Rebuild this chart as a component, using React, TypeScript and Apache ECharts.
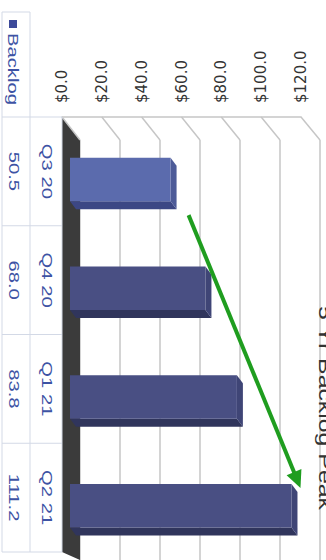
import React, { useEffect, useRef } from 'react';
import * as echarts from 'echarts';

// ---- data ----
const categories = ['Q3 20', 'Q4 20', 'Q1 21', 'Q2 21'];
const backlog = [50.5, 68.0, 83.8, 111.2];
const seriesName = 'Backlog';
const titleText = '5 Yr Backlog Peak';
const valueMin = 0;
const valueMax = 120;
const valueStep = 20;
const fmtTick = (v: number) => '$' + v.toFixed(1);
const fmtValue = (v: number) => v.toFixed(1);

// ---- styles ----
const FRONT = ['#5b6bad', '#494f83', '#494f83', '#494f83'];
const SIDE = ['#4d5b98', '#3f4576', '#3f4576', '#3f4576'];
const BOTTOM = ['#3c4784', '#30355c', '#30355c', '#30355c'];
const GRID_COLOR = '#c6c6c6';
const TABLE_LINE = '#d3d9e6';
const TABLE_TEXT = '#3d53a4';
const ARROW = '#1f9d1f';
const W = 326;
const H = 560;
const BAR_SHIFT = [8, 8];
const BAR_DEPTH = [6, 8];
const BAR_FRAC = 0.4;
const ROT = -Math.PI / 2;

export default function App() {
  const ref = useRef<HTMLDivElement>(null);
  useEffect(() => {
    const chart = echarts.init(ref.current!, null, { renderer: 'svg' });
    const renderItem = (params: any, api: any) => {
      const i = params.dataIndex;
      const v = api.value(0);
      const c = api.value(1);
      const [xv, yc] = api.coord([v, c]);
      const [x0] = api.coord([0, c]);
      const band = api.size([0, 1])[1];
      const h = band * BAR_FRAC;
      const [sx, sy] = BAR_SHIFT;
      const [dx, dy] = BAR_DEPTH;
      const L = x0 + sx, R = xv + sx, T = yc + sy - h / 2, B = yc + sy + h / 2;
      return {
        type: 'group',
        children: [
          { type: 'polygon', shape: { points: [[L, B], [R, B], [R + dx, B + dy], [L + dx, B + dy]] }, style: { fill: BOTTOM[i] } },
          { type: 'polygon', shape: { points: [[R, T], [R + dx, T + dy], [R + dx, B + dy], [R, B]] }, style: { fill: SIDE[i] } },
          { type: 'rect', shape: { x: L, y: T, width: R - L, height: h }, style: { fill: FRONT[i] } },
        ],
      };
    };
    const option: any = {
      animation: false,
      backgroundColor: '#ffffff',
      grid: [
        { left: 62, right: 25, top: 117, bottom: 8 },
        { left: 80, right: 6, top: 140, bottom: 0 },
      ],
      xAxis: [
        {
          gridIndex: 0, type: 'value', position: 'top', min: valueMin, max: valueMax, interval: valueStep,
          axisLine: { show: true, lineStyle: { color: GRID_COLOR, width: 1.5 } },
          axisTick: { show: false }, splitLine: { show: false },
          axisLabel: { rotate: -90, margin: 14, formatter: fmtTick, color: '#333', fontSize: 15, fontFamily: 'DejaVu Sans' },
        },
        {
          gridIndex: 1, type: 'value', min: valueMin, max: valueMax, interval: valueStep,
          axisLine: { show: false }, axisTick: { show: false }, axisLabel: { show: false },
          splitLine: { show: true, lineStyle: { color: GRID_COLOR, width: 1.5 } },
        },
      ],
      yAxis: [
        { gridIndex: 0, type: 'category', inverse: true, data: categories, show: false },
        { gridIndex: 1, type: 'category', inverse: true, data: categories, show: false },
      ],
      series: [
        {
          type: 'custom', name: seriesName, xAxisIndex: 0, yAxisIndex: 0, z: 3,
          encode: { x: 0, y: 1 },
          data: backlog.map((v, i) => [v, i]),
          renderItem,
        },
      ],
    };
    chart.setOption(option);

    const fx = (v: number) => chart.convertToPixel({ xAxisIndex: 0 } as any, v) as number;
    const bx = (v: number) => chart.convertToPixel({ xAxisIndex: 1 } as any, v) as number;
    const cy = (i: number) => chart.convertToPixel({ yAxisIndex: 0 } as any, i) as number;
    const cy1 = (i: number) => chart.convertToPixel({ yAxisIndex: 1 } as any, i) as number;
    const band = cy(1) - cy(0);
    const band1 = cy1(1) - cy1(0);
    const frontTop = cy(0) - band / 2;
    const frontBottom = cy(categories.length - 1) + band / 2;
    const backTop = cy1(0) - band1 / 2;
    const g: any[] = [];

    // floor
    g.push({
      type: 'polygon', z: 1,
      shape: { points: [[fx(valueMin), frontTop], [bx(valueMin), backTop], [bx(valueMin), H], [fx(valueMin), frontBottom]] },
      style: { fill: '#3b3b3b' },
    });
    // side wall diagonals
    for (let v = valueMin; v <= valueMax; v += valueStep) {
      g.push({
        type: 'line', z: 1,
        shape: { x1: fx(v), y1: frontTop, x2: bx(v), y2: backTop },
        style: { stroke: GRID_COLOR, lineWidth: 1.5 },
      });
    }
    // data table
    const tL = 2, tM = 30, tR = fx(valueMin), tTop = 12;
    const lines: number[][] = [
      [tL, tTop, tL, frontBottom],
      [tM, tTop, tM, frontBottom],
      [tR, frontTop, tR, frontBottom],
      [tL, tTop, tM, tTop],
    ];
    for (let k = 0; k <= categories.length; k++) {
      const y = frontTop + k * band;
      lines.push([tL, y, tR, y]);
    }
    lines.forEach(([x1, y1, x2, y2]) =>
      g.push({ type: 'line', z: 2, shape: { x1, y1, x2, y2 }, style: { stroke: TABLE_LINE, lineWidth: 1 } })
    );
    const textStyle = (text: string, size: number, fill: string, align = 'center', va = 'middle') => ({
      text, fill, font: `${size}px "Liberation Sans", Arial, sans-serif`, align, verticalAlign: va,
    });
    categories.forEach((c, i) => {
      g.push({ type: 'text', z: 4, x: (tM + tR) / 2 + 1, y: cy(i), rotation: ROT, scaleX: 1.35, style: textStyle(c, 15, TABLE_TEXT) });
      g.push({ type: 'text', z: 4, x: (tL + tM) / 2 - 2, y: cy(i), rotation: ROT, scaleX: 1.35, style: textStyle(fmtValue(backlog[i]), 15, TABLE_TEXT) });
    });
    // legend key in table
    g.push({ type: 'rect', z: 4, shape: { x: 9, y: 20, width: 8, height: 8 }, style: { fill: '#3d4a9a' } });
    g.push({ type: 'text', z: 4, x: 13.5, y: 33, rotation: ROT, scaleX: 1.35, style: textStyle(seriesName, 15, TABLE_TEXT, 'left') });

    // title (cut at the edge, as in the reference)
    g.push({ type: 'text', z: 4, x: 316, y: 408, rotation: ROT, scaleX: 1.38, style: textStyle(titleText, 18, '#333', 'center', 'bottom') });

    // arrow from first bar to last bar
    const h = band * BAR_FRAC;
    const r0 = fx(backlog[0]) + BAR_SHIFT[0] + BAR_DEPTH[0];
    const b0 = cy(0) + BAR_SHIFT[1] + h / 2 + BAR_DEPTH[1];
    const last = backlog.length - 1;
    const r3 = fx(backlog[last]) + BAR_SHIFT[0] + BAR_DEPTH[0];
    const t3 = cy(last) + BAR_SHIFT[1] - h / 2;
    const sx = r0 + 12, sy = b0 + 6;
    const ex = r3 + 3, ey = t3 + 4;
    const len = Math.hypot(ex - sx, ey - sy);
    const ux = (ex - sx) / len, uy = (ey - sy) / len;
    const px = -uy, py = ux;
    const headL = 17, headW = 8;
    const bxh = ex - ux * headL, byh = ey - uy * headL;
    g.push({ type: 'line', z: 10, shape: { x1: sx, y1: sy, x2: bxh + ux * 2, y2: byh + uy * 2 }, style: { stroke: ARROW, lineWidth: 4 } });
    g.push({
      type: 'polygon', z: 10,
      shape: { points: [[ex, ey], [bxh + px * headW, byh + py * headW], [bxh - px * headW, byh - py * headW]] },
      style: { fill: ARROW },
    });

    chart.setOption({ graphic: g });
    return () => chart.dispose();
  }, []);
  return <div ref={ref} style={{ position: 'fixed', left: 0, top: 0, width: W, height: H }} />;
}
